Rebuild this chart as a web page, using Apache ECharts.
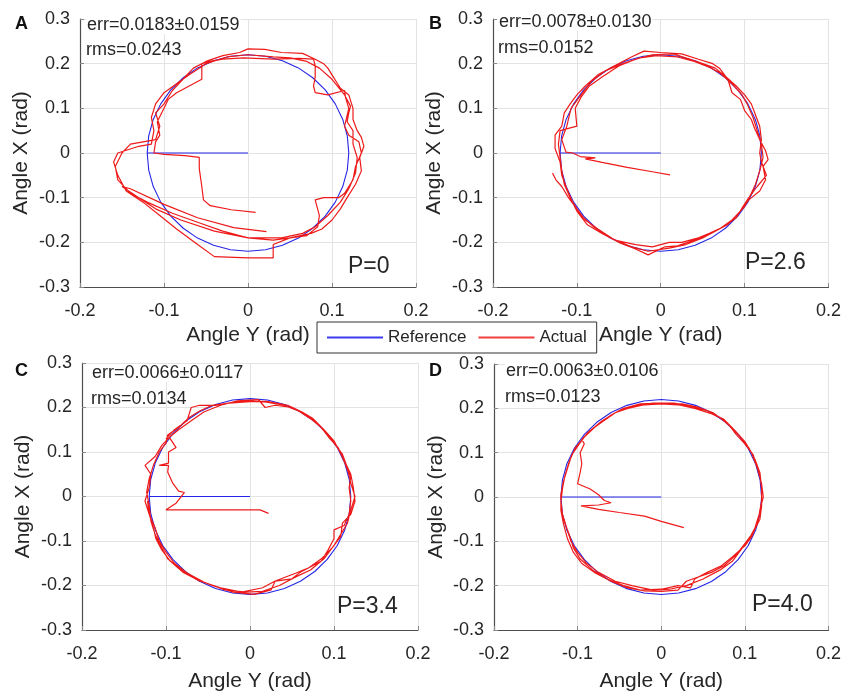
<!DOCTYPE html>
<html>
<head>
<meta charset="utf-8">
<script src="https://cdn.jsdelivr.net/npm/echarts@6/dist/echarts.min.js"></script>
<style>html,body{margin:0;padding:0;background:#fff}#c{width:844px;height:693px}</style>
</head>
<body>
<div id="c"></div>
<script>
// ---------- data ----------
const panelLetters = ['A', 'B', 'C', 'D'];
const errTexts = ['err=0.0183\u00B10.0159', 'err=0.0078\u00B10.0130', 'err=0.0066\u00B10.0117', 'err=0.0063\u00B10.0106'];
const rmsTexts = ['rms=0.0243', 'rms=0.0152', 'rms=0.0134', 'rms=0.0123'];
const pTexts = ['P=0', 'P=2.6', 'P=3.4', 'P=4.0'];
const xTickLabels = ['-0.2', '-0.1', '0', '0.1', '0.2'];
const yTickLabels = ['-0.3', '-0.2', '-0.1', '0', '0.1', '0.2', '0.3'];
const xAxisTitle = 'Angle Y (rad)';
const yAxisTitle = 'Angle X (rad)';
const seriesNames = ['Reference', 'Actual'];

// reference: stem from origin, then ellipse (rx 0.12, ry 0.22)
const referencePath = [
  [0,0],[-0.12,0],
  [-0.1182,0.0382],[-0.1128,0.0752],[-0.1039,0.11],[-0.0919,0.1414],[-0.0771,0.1685],[-0.06,0.1905],[-0.041,0.2067],[-0.0208,0.2167],
  [0,0.22],[0.0208,0.2167],[0.041,0.2067],[0.06,0.1905],[0.0771,0.1685],[0.0919,0.1414],[0.1039,0.11],[0.1128,0.0752],[0.1182,0.0382],
  [0.12,0],[0.1182,-0.0382],[0.1128,-0.0752],[0.1039,-0.11],[0.0919,-0.1414],[0.0771,-0.1685],[0.06,-0.1905],[0.041,-0.2067],[0.0208,-0.2167],
  [0,-0.22],[-0.0208,-0.2167],[-0.041,-0.2067],[-0.06,-0.1905],[-0.0771,-0.1685],[-0.0919,-0.1414],[-0.1039,-0.11],[-0.1128,-0.0752],[-0.1182,-0.0382],
  [-0.12,0]
];

const actualA = [
  [0.009,-0.133],[-0.02,-0.127],[-0.045,-0.118],[-0.053,-0.105],[-0.055,-0.075],[-0.058,-0.035],[-0.058,-0.01],[-0.075,-0.006],[-0.1,-0.003],[-0.112,0.0],
  [-0.11,0.025],[-0.105,0.04],[-0.108,0.07],[-0.1,0.1],[-0.095,0.12],[-0.085,0.135],[-0.07,0.15],[-0.055,0.165],[-0.055,0.2],[-0.045,0.205],
  [-0.03,0.21],[-0.005,0.213],[0.03,0.21],[0.06,0.212],[0.078,0.21],[0.08,0.195],[0.08,0.17],[0.078,0.15],[0.08,0.135],[0.095,0.13],
  [0.115,0.14],[0.116,0.125],[0.12,0.1],[0.115,0.06],[0.12,0.04],[0.132,0.025],[0.135,0.0],[0.128,-0.03],[0.125,-0.06],[0.115,-0.09],
  [0.108,-0.1],[0.09,-0.1],[0.08,-0.105],[0.085,-0.14],[0.083,-0.165],[0.07,-0.185],[0.05,-0.19],[0.03,-0.195],[0.0,-0.19],[-0.03,-0.175],
  [-0.06,-0.155],[-0.09,-0.135],[-0.12,-0.11],[-0.14,-0.09],[-0.155,-0.06],[-0.158,-0.03],[-0.15,0.0],[-0.14,0.02],[-0.125,0.025],[-0.11,0.03],
  [-0.105,0.06],[-0.11,0.09],[-0.1,0.11],[-0.09,0.14],[-0.08,0.16],[-0.065,0.19],[-0.05,0.205],[-0.03,0.218],[-0.01,0.225],[0.0,0.233],
  [0.02,0.232],[0.04,0.225],[0.065,0.223],[0.08,0.21],[0.09,0.2],[0.095,0.19],[0.1,0.175],[0.105,0.16],[0.11,0.145],[0.12,0.13],
  [0.125,0.1],[0.125,0.075],[0.13,0.05],[0.135,0.035],[0.138,0.015],[0.133,-0.01],[0.135,-0.04],[0.128,-0.07],[0.118,-0.1],[0.11,-0.125],
  [0.1,-0.15],[0.088,-0.17],[0.075,-0.18],[0.05,-0.19],[0.03,-0.205],[0.03,-0.235],[0.0,-0.235],[-0.04,-0.232],[-0.06,-0.205],[-0.085,-0.17],
  [-0.105,-0.14],[-0.125,-0.11],[-0.145,-0.085],[-0.155,-0.05],[-0.16,-0.02],[-0.155,0.0],[-0.13,0.015],[-0.115,0.02],[-0.112,0.05],[-0.115,0.08],
  [-0.11,0.11],[-0.1,0.135],[-0.085,0.155],[-0.07,0.175],[-0.05,0.2],[-0.025,0.215],[0.0,0.22],[0.03,0.215],[0.05,0.213],[0.07,0.205],
  [0.085,0.19],[0.1,0.165],[0.115,0.13],[0.122,0.105],[0.12,0.09],[0.118,0.07],[0.125,0.05],[0.125,0.02],[0.13,-0.01],[0.128,-0.045],
  [0.12,-0.08],[0.11,-0.11],[0.095,-0.14],[0.08,-0.165],[0.065,-0.18],[0.04,-0.19],[0.0,-0.19],[-0.04,-0.175],[-0.08,-0.15],[-0.11,-0.125],
  [-0.13,-0.1],[-0.15,-0.075],[-0.14,-0.08],[-0.1,-0.115],[-0.06,-0.145],[-0.017,-0.167],[0.022,-0.176]
];

const actualB = [
  [0.011,-0.049],[-0.01,-0.042],[-0.04,-0.032],[-0.07,-0.021],[-0.09,-0.013],[-0.078,-0.011],[-0.096,-0.008],[-0.105,0.0],[-0.113,0.002],
  [-0.118,0.03],[-0.112,0.06],[-0.107,0.1],[-0.095,0.13],[-0.083,0.16],[-0.065,0.185],[-0.045,0.2],[-0.025,0.213],[-0.005,0.218],[0.02,0.215],
  [0.04,0.205],[0.058,0.192],[0.07,0.18],[0.085,0.155],[0.097,0.13],[0.103,0.11],[0.11,0.08],[0.115,0.05],[0.12,0.02],[0.122,-0.01],
  [0.118,-0.04],[0.113,-0.07],[0.108,-0.09],[0.1,-0.12],[0.085,-0.15],[0.07,-0.17],[0.05,-0.19],[0.03,-0.205],[0.01,-0.213],[-0.015,-0.22],
  [-0.035,-0.21],[-0.06,-0.19],[-0.08,-0.165],[-0.095,-0.14],[-0.105,-0.11],[-0.112,-0.08],[-0.118,-0.05],[-0.12,-0.02],
  [-0.126,0.01],[-0.126,0.04],[-0.118,0.06],[-0.115,0.09],[-0.108,0.11],[-0.1,0.13],[-0.09,0.15],[-0.075,0.175],[-0.055,0.195],[-0.035,0.215],
  [-0.02,0.228],[0.0,0.225],[0.025,0.222],[0.045,0.21],[0.062,0.2],[0.07,0.19],[0.08,0.165],[0.085,0.135],[0.095,0.12],[0.1,0.095],
  [0.108,0.075],[0.112,0.055],[0.118,0.03],[0.125,0.005],[0.128,-0.015],[0.122,-0.03],[0.125,-0.06],[0.118,-0.085],[0.105,-0.105],[0.095,-0.13],
  [0.08,-0.16],[0.06,-0.18],[0.04,-0.195],[0.02,-0.208],[0.005,-0.21],[-0.015,-0.228],[-0.03,-0.215],[-0.05,-0.2],[-0.07,-0.18],[-0.088,-0.16],
  [-0.1,-0.13],[-0.108,-0.1],[-0.115,-0.07],[-0.118,-0.04],[-0.12,-0.01],
  [-0.122,0.02],[-0.12,0.05],[-0.1,0.06],[-0.102,0.1],[-0.095,0.125],[-0.085,0.15],[-0.07,0.17],[-0.05,0.195],[-0.03,0.21],[-0.01,0.22],
  [0.015,0.222],[0.035,0.21],[0.05,0.2],[0.065,0.19],[0.078,0.17],[0.09,0.15],[0.1,0.13],[0.108,0.11],[0.113,0.085],[0.118,0.06],
  [0.12,0.03],[0.118,0.0],[0.12,-0.02],[0.126,-0.05],[0.115,-0.075],[0.105,-0.1],[0.098,-0.12],[0.09,-0.145],[0.075,-0.165],[0.058,-0.18],
  [0.045,-0.19],[0.025,-0.2],[0.01,-0.2],[-0.01,-0.21],[-0.03,-0.205],[-0.055,-0.195],[-0.075,-0.17],[-0.09,-0.15],[-0.1,-0.125],[-0.11,-0.1],
  [-0.118,-0.075],[-0.125,-0.06],[-0.129,-0.045]
];

const actualC = [
  [0.022,-0.038],[0.012,-0.03],[-0.03,-0.03],[-0.07,-0.03],[-0.1,-0.03],[-0.088,-0.015],[-0.078,0.009],[-0.085,0.012],[-0.092,0.03],[-0.098,0.055],
  [-0.097,0.07],[-0.108,0.07],[-0.097,0.075],[-0.097,0.1],[-0.088,0.11],[-0.095,0.13],
  [-0.1,0.13],[-0.09,0.15],[-0.075,0.17],[-0.07,0.2],[-0.06,0.205],[-0.04,0.205],[-0.02,0.212],[0.0,0.215],[0.02,0.212],[0.04,0.205],
  [0.058,0.192],[0.072,0.175],[0.085,0.155],[0.095,0.13],[0.105,0.11],[0.112,0.08],[0.117,0.055],[0.12,0.03],[0.125,0.0],[0.12,-0.03],
  [0.116,-0.06],[0.108,-0.085],[0.1,-0.11],[0.088,-0.14],[0.072,-0.165],[0.055,-0.18],[0.035,-0.2],[0.015,-0.213],[-0.005,-0.215],[-0.03,-0.21],
  [-0.055,-0.192],[-0.075,-0.172],[-0.09,-0.15],[-0.1,-0.125],[-0.108,-0.1],[-0.113,-0.07],[-0.12,-0.04],[-0.125,-0.01],
  [-0.12,0.02],[-0.118,0.05],[-0.125,0.07],[-0.113,0.09],[-0.105,0.115],[-0.095,0.135],[-0.085,0.15],[-0.07,0.17],[-0.055,0.19],[-0.035,0.205],
  [-0.015,0.215],[0.01,0.218],[0.018,0.2],[0.03,0.205],[0.05,0.2],[0.065,0.185],[0.078,0.168],[0.09,0.145],[0.1,0.12],[0.11,0.095],
  [0.115,0.07],[0.12,0.045],[0.118,0.02],[0.12,-0.01],[0.118,-0.04],[0.112,-0.065],[0.1,-0.075],[0.1,-0.095],[0.093,-0.12],[0.085,-0.145],
  [0.07,-0.16],[0.06,-0.17],[0.05,-0.185],[0.03,-0.19],[0.025,-0.21],[0.005,-0.22],[-0.02,-0.215],[-0.045,-0.2],[-0.065,-0.185],[-0.085,-0.16],
  [-0.098,-0.14],[-0.105,-0.115],[-0.113,-0.085],[-0.118,-0.055],[-0.12,-0.02],
  [-0.123,0.01],[-0.12,0.04],[-0.115,0.07],[-0.108,0.1],[-0.1,0.12],[-0.098,0.138],[-0.085,0.155],[-0.072,0.178],[-0.06,0.192],[-0.045,0.205],
  [-0.025,0.21],[0.0,0.213],[0.02,0.214],[0.045,0.205],[0.062,0.19],[0.075,0.175],[0.088,0.15],[0.1,0.125],[0.107,0.1],[0.113,0.078],
  [0.12,0.05],[0.123,0.02],[0.125,-0.01],[0.12,-0.04],[0.11,-0.06],[0.108,-0.09],[0.098,-0.115],[0.085,-0.14],[0.07,-0.16],[0.055,-0.172],
  [0.03,-0.19],[0.015,-0.205],[-0.01,-0.215],[-0.035,-0.205],[-0.06,-0.19],[-0.08,-0.17],[-0.095,-0.145],[-0.105,-0.12],[-0.112,-0.095],[-0.115,-0.07],
  [-0.12,-0.04],[-0.122,-0.01]
];

const actualD = [
  [0.027,-0.069],[0.0,-0.055],[-0.02,-0.043],[-0.05,-0.035],[-0.075,-0.028],[-0.096,-0.02],[-0.075,-0.018],[-0.06,-0.013],[-0.068,-0.008],[-0.075,0.005],
  [-0.085,0.018],[-0.1,0.03],[-0.097,0.055],[-0.095,0.075],[-0.097,0.1],[-0.092,0.12],[-0.095,0.13],
  [-0.085,0.15],[-0.07,0.17],[-0.055,0.19],[-0.04,0.2],[-0.02,0.208],[0.0,0.21],[0.02,0.208],[0.04,0.2],[0.06,0.188],[0.075,0.175],
  [0.088,0.15],[0.1,0.125],[0.108,0.1],[0.113,0.075],[0.118,0.05],[0.12,0.02],[0.12,-0.01],[0.117,-0.04],[0.112,-0.07],[0.105,-0.095],
  [0.095,-0.12],[0.085,-0.145],[0.07,-0.165],[0.05,-0.185],[0.03,-0.2],[0.01,-0.208],[-0.01,-0.21],[-0.035,-0.2],[-0.055,-0.19],[-0.075,-0.17],
  [-0.09,-0.148],[-0.1,-0.125],[-0.108,-0.1],[-0.113,-0.07],[-0.118,-0.04],[-0.12,-0.01],
  [-0.118,0.02],[-0.115,0.05],[-0.11,0.08],[-0.103,0.11],[-0.092,0.135],[-0.078,0.16],[-0.06,0.185],[-0.045,0.2],[-0.025,0.21],[0.0,0.212],
  [0.025,0.21],[0.045,0.202],[0.062,0.19],[0.08,0.165],[0.09,0.14],[0.1,0.12],[0.11,0.095],[0.115,0.065],[0.12,0.03],[0.122,0.0],
  [0.118,-0.03],[0.115,-0.06],[0.108,-0.09],[0.1,-0.11],[0.085,-0.135],[0.072,-0.155],[0.055,-0.17],[0.04,-0.185],[0.035,-0.205],[0.02,-0.2],
  [0.0,-0.208],[-0.025,-0.21],[-0.045,-0.2],[-0.065,-0.185],[-0.082,-0.165],[-0.097,-0.14],[-0.105,-0.115],[-0.11,-0.085],[-0.116,-0.055],[-0.12,-0.025],
  [-0.12,0.005],[-0.117,0.035],[-0.112,0.065],[-0.107,0.095],[-0.098,0.12],[-0.088,0.145],[-0.072,0.17],[-0.055,0.19],[-0.035,0.205],[-0.01,0.212],
  [0.015,0.212],[0.035,0.205],[0.055,0.195],[0.07,0.18],[0.085,0.155],[0.095,0.135],[0.105,0.11],[0.112,0.085],[0.118,0.055],[0.12,0.02],
  [0.12,-0.02],[0.118,-0.05],[0.11,-0.08],[0.102,-0.1],[0.09,-0.13],[0.075,-0.155],[0.06,-0.17],[0.045,-0.18],[0.03,-0.19],[0.02,-0.21],
  [0.0,-0.213],[-0.02,-0.212],[-0.04,-0.205],[-0.06,-0.19],[-0.08,-0.17],[-0.095,-0.15],[-0.105,-0.125],[-0.112,-0.095],[-0.117,-0.06],[-0.12,-0.03],
  [-0.12,0.0]
];
const actualSets = [actualA, actualB, actualC, actualD];

// ---------- layout ----------
const FONT = '"Liberation Sans", Arial, Helvetica, sans-serif';
const TXT = '#262626';
const grids = [
  {left: 80, top: 19, width: 336, height: 268},
  {left: 493, top: 19, width: 337, height: 268},
  {left: 82, top: 363, width: 336, height: 270},
  {left: 494, top: 364, width: 337, height: 270}
];
const xNameGaps = [38, 38, 41, 41];
const yNameGaps = [48, 48, 48, 47];
const letterPos = [[15, 24], [429, 24], [15, 371], [429, 371]];
const errPos = [[86, 25], [498, 22], [91, 373], [505, 371]];
const rmsPos = [[86, 50], [498, 48], [91, 399], [505, 397]];
const pPos = [[348, 267], [745, 263], [337, 607], [752, 605]];

function fmt(labels, min) {
  return function (v) {
    const i = Math.round((v - min) / 0.1);
    return labels[i] !== undefined ? labels[i] : '';
  };
}

const option = {
  animation: false,
  backgroundColor: '#ffffff',
  textStyle: {fontFamily: FONT},
  grid: grids.map(g => Object.assign({containLabel: false}, g)),
  xAxis: grids.map((g, i) => ({
    type: 'value', gridIndex: i, min: -0.2, max: 0.2, interval: 0.1,
    name: xAxisTitle, nameLocation: 'middle', nameGap: xNameGaps[i],
    nameTextStyle: {fontSize: 21, color: TXT, fontFamily: FONT},
    axisLine: {show: true, onZero: false, lineStyle: {color: '#4d4d4d', width: 1.2}},
    axisTick: {show: true, inside: true, length: 4, lineStyle: {color: '#888'}},
    axisLabel: {fontSize: 18, color: TXT, margin: 15, fontFamily: FONT, formatter: fmt(xTickLabels, -0.2)},
    splitLine: {show: true, lineStyle: {color: '#e3e3e3', width: 1}}
  })),
  yAxis: grids.map((g, i) => ({
    type: 'value', gridIndex: i, min: -0.3, max: 0.3, interval: 0.1,
    name: yAxisTitle, nameLocation: 'middle', nameGap: yNameGaps[i],
    nameTextStyle: {fontSize: 21, color: TXT, fontFamily: FONT},
    axisLine: {show: true, onZero: false, lineStyle: {color: '#4d4d4d', width: 1.2}},
    axisTick: {show: true, inside: true, length: 4, lineStyle: {color: '#888'}},
    axisLabel: {fontSize: 18, color: TXT, margin: 10, fontFamily: FONT, formatter: fmt(yTickLabels, -0.3)},
    splitLine: {show: true, lineStyle: {color: '#e3e3e3', width: 1}}
  })),
  legend: {
    show: true, left: 317, top: 322, orient: 'horizontal',
    data: seriesNames.map(n => ({name: n, icon: 'rect'})),
    itemWidth: 56, itemHeight: 2, itemGap: 12,
    padding: [7, 10, 7, 10],
    borderColor: '#333', borderWidth: 1, backgroundColor: '#fff',
    textStyle: {fontSize: 17, color: TXT, fontFamily: FONT}
  },
  series: [],
  graphic: []
};

for (let i = 0; i < 4; i++) {
  option.series.push({
    name: seriesNames[0], type: 'line', xAxisIndex: i, yAxisIndex: i,
    data: referencePath, showSymbol: false, symbol: 'none',
    lineStyle: {color: '#2525e6', width: 1.1}, itemStyle: {color: '#3a3aee'}, z: 2
  });
  option.series.push({
    name: seriesNames[1], type: 'line', xAxisIndex: i, yAxisIndex: i,
    data: actualSets[i], showSymbol: false, symbol: 'none',
    lineStyle: {color: '#ee1a1a', width: 1.2}, itemStyle: {color: '#f04040'}, z: 3
  });
  option.graphic.push(
    {type: 'text', x: letterPos[i][0], y: letterPos[i][1], style: {text: panelLetters[i], font: 'bold 18px ' + FONT, fill: '#111', verticalAlign: 'middle'}},
    {type: 'text', x: errPos[i][0], y: errPos[i][1], z: 10, style: {text: errTexts[i], font: '18px ' + FONT, fill: TXT, verticalAlign: 'middle', backgroundColor: '#fff', padding: [0, 1]}},
    {type: 'text', x: rmsPos[i][0], y: rmsPos[i][1], z: 10, style: {text: rmsTexts[i], font: '18px ' + FONT, fill: TXT, verticalAlign: 'middle'}},
    {type: 'text', x: pPos[i][0], y: pPos[i][1], style: {text: pTexts[i], font: '23px ' + FONT, fill: TXT, verticalAlign: 'middle'}}
  );
}

const chart = echarts.init(document.getElementById('c'), null, {renderer: 'canvas'});
chart.setOption(option);
</script>
</body>
</html>
